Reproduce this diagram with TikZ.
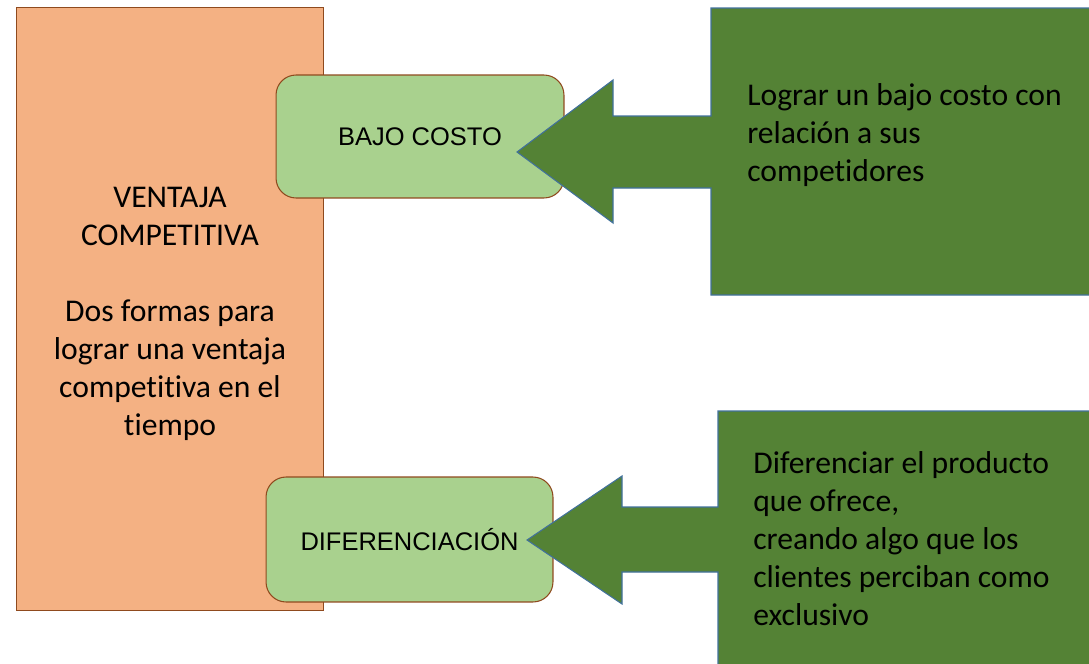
\documentclass[tikz,border=0pt]{standalone}
\usepackage{fontspec}
\setmainfont{Carlito}[Ligatures=NoCommon]
\newfontfamily\arialfont{Liberation Sans}
\usepackage{tikz}
\definecolor{naranja}{HTML}{F4B183}
\definecolor{cafe}{HTML}{8F4A1E}
\definecolor{verdeclaro}{HTML}{A9D18E}
\definecolor{verdeoscuro}{HTML}{548235}
\definecolor{azulborde}{HTML}{41719C}

\begin{document}
\begin{tikzpicture}[x=0.02cm,y=-0.02cm,font=\fontsize{18}{21.6}\selectfont,
greenbox/.style={draw=cafe,fill=verdeclaro,line width=0.6pt,rounded corners=0.4cm,font=\arialfont\fontsize{14.5}{16}\selectfont},
callout/.style={draw=azulborde,fill=verdeoscuro,line width=0.6pt}]
\useasboundingbox (0,0) rectangle (1089,663);
\node [draw=cafe, fill=naranja, line width=0.6pt, minimum width=6.16cm, minimum height=12.08cm] (ventaja) at (170,309) {};
\node [align=center] (ventajatexto) at (170,314) {VENTAJA\\COMPETITIVA\\[21.6pt]Dos formas para\\lograr una ventaja\\competitiva en el\\tiempo};
\node [greenbox, minimum width=5.76cm, minimum height=2.46cm] (bajo) at (420,136.5) {BAJO COSTO};
\node [greenbox, minimum width=5.74cm, minimum height=2.5cm] (dif) at (409.5,539.5) {DIFERENCIACIÓN};
\draw [callout] (517,152) --(613,80) --(613,116) --(711,116) --(711,8) --(1091,8) --(1091,295) --(711,295) --(711,188) --(613,188) --(613,223) --cycle;
\draw [callout] (527,540) --(622,476) --(622,507) --(718,507) --(718,411) --(1091,411) --(1091,666) --(718,666) --(718,572) --(622,572) --(622,604) --cycle;
\node [anchor=north west, inner sep=0pt, align=left] (costo) at (747,83) {Lograr un bajo costo con\\relación a sus\\competidores};
\node [anchor=north west, inner sep=0pt, align=left] (diferenciar) at (753,451) {Diferenciar el producto\\que ofrece,\\creando algo que los\\clientes perciban como\\exclusivo};
\end{tikzpicture}
\end{document}
